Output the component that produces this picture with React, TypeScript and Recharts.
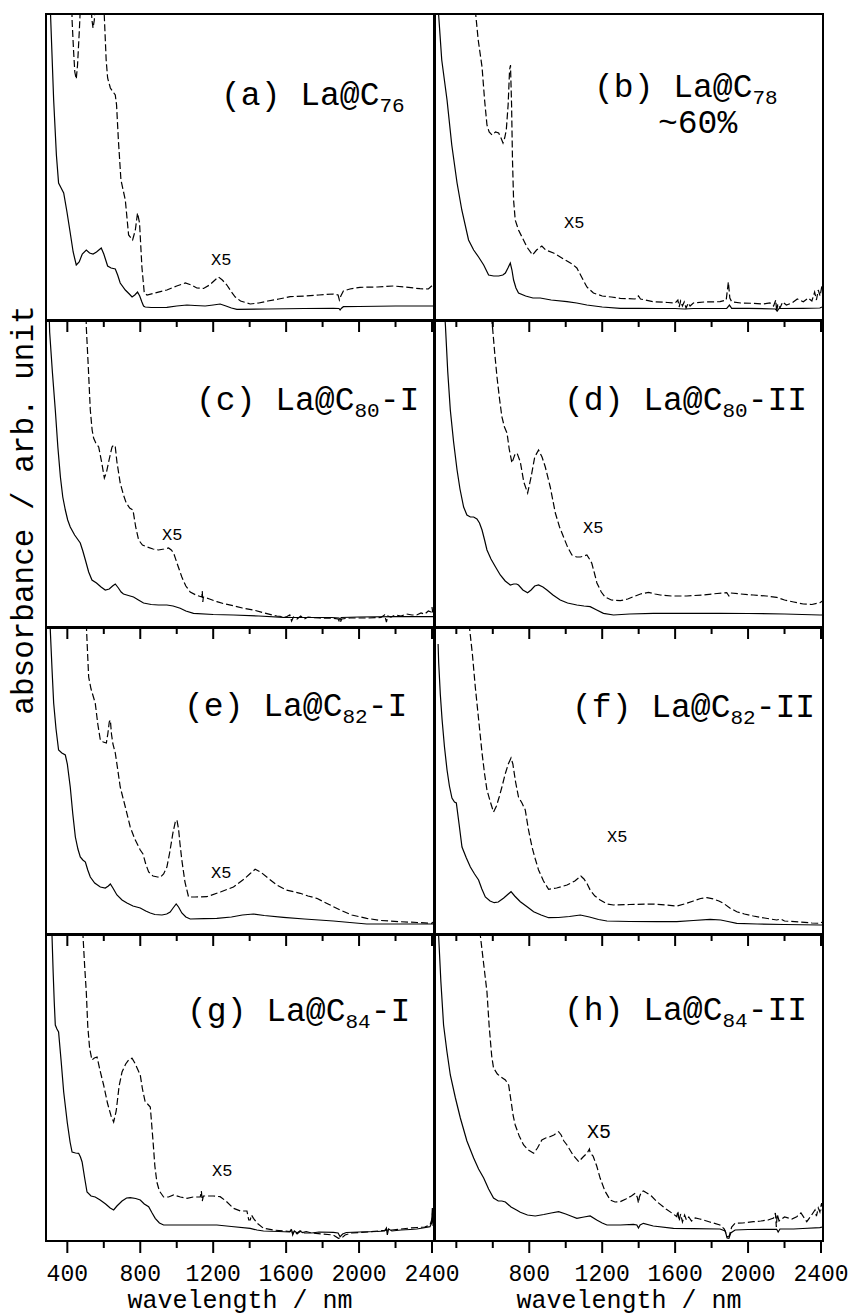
import React from 'react';
import { LineChart, Line, XAxis, YAxis, ReferenceArea } from 'recharts';

type Pt = [number, number];

// ---------- axis / tick values ----------
const X_MIN = 283;
const X_MAX = 2411;
const Y_MAX = 306;
const TICKS = [400, 600, 800, 1000, 1200, 1400, 1600, 1800, 2000, 2200, 2400];

// ---------- spectra: [wavelength nm, absorbance arb.] ----------
const A_SOLID: Pt[] = [[290, 420], [303, 330], [315, 270], [325, 220], [340, 165], [352, 137], [366, 132], [380, 127], [398, 108], [416, 87], [432, 68], [449, 55], [465, 58], [482, 66], [504, 70], [522, 67], [541, 66], [560, 68], [586, 72], [600, 66], [621, 54], [640, 52], [663, 51], [676, 45], [690, 37], [718, 30], [740, 26], [755, 23], [770, 25], [785, 28], [797, 24], [809, 18], [818, 14], [827, 13], [860, 12.5], [946, 12.7], [1000, 14], [1056, 15], [1100, 14.5], [1156, 14], [1200, 15], [1238, 16], [1270, 14], [1300, 12], [1330, 10.7], [1500, 11], [1700, 11.5], [1859, 11.7], [1890, 11.5], [1896, 10], [1902, 11.5], [1914, 13.3], [2000, 13.5], [2200, 14], [2407, 14]];
const A_DASH: Pt[] = [[418, 400], [426, 300], [434, 270], [441, 248], [449, 241], [456, 255], [466, 290], [478, 340], [489, 330], [510, 360], [525, 330], [535, 300], [541, 292], [548, 300], [560, 340], [580, 360], [599, 320], [606, 290], [613, 260], [621, 242], [636, 232], [663, 225], [670, 215], [680, 180], [694, 140], [718, 120], [736, 85], [758, 80], [773, 90], [785, 107], [796, 97], [809, 53], [822, 27], [837, 25], [880, 27], [946, 30], [1000, 34], [1047, 37], [1080, 35], [1110, 32], [1147, 31.5], [1180, 35], [1210, 40], [1229, 43], [1250, 40], [1275, 35], [1300, 28], [1321, 23], [1350, 19], [1403, 16], [1450, 17], [1500, 19], [1560, 21], [1622, 23.3], [1700, 24], [1780, 25], [1859, 26], [1885, 25], [1892, 20], [1900, 24], [1914, 29], [1950, 31], [2005, 32.7], [2100, 33], [2188, 34], [2250, 33], [2334, 31.3], [2380, 31], [2404, 35]];

const B_SOLID: Pt[] = [[296, 340], [303, 305], [320, 260], [349, 220], [375, 175], [404, 137], [430, 110], [467, 80], [495, 70], [522, 63], [550, 55], [577, 45], [605, 44], [632, 44], [655, 45], [669, 47], [683, 52], [696, 57], [705, 50], [714, 40], [727, 32], [741, 27], [780, 24], [820, 22], [860, 22], [920, 20], [1007, 18.3], [1060, 17], [1116, 15], [1200, 13], [1299, 11.7], [1400, 11.7], [1500, 11.5], [1600, 11.5], [1650, 11], [1700, 11.5], [1800, 11.5], [1883, 11.7], [1898, 15], [1910, 11.7], [2000, 11.7], [2150, 11], [2160, 9], [2170, 11.5], [2300, 11.7], [2394, 12], [2405, 13]];
const B_DASH: Pt[] = [[495, 400], [504, 310], [520, 280], [541, 253], [555, 220], [568, 195], [580, 188], [596, 185], [615, 188], [632, 187], [645, 182], [656, 177], [665, 182], [674, 190], [684, 215], [692, 250], [697, 255], [703, 215], [708, 160], [714, 120], [723, 100], [741, 90], [760, 83], [787, 73], [818, 65], [840, 70], [869, 74], [890, 70], [933, 67], [970, 63], [1007, 59], [1035, 56], [1061, 52], [1090, 42], [1116, 33], [1152, 27], [1200, 24], [1250, 23], [1299, 21.7], [1380, 21], [1399, 24], [1410, 21], [1481, 18.3], [1560, 17.5], [1600, 17], [1615, 20], [1622, 13], [1630, 19], [1640, 14], [1650, 18], [1660, 12], [1672, 17], [1682, 14], [1700, 17], [1760, 18], [1846, 18.3], [1880, 20], [1892, 38], [1900, 22], [1910, 18.3], [1960, 17], [2029, 16.7], [2080, 16], [2120, 17], [2140, 14], [2152, 20], [2157, 8], [2163, 16], [2175, 12], [2190, 18], [2210, 15], [2240, 17], [2270, 21], [2303, 18.3], [2330, 22], [2350, 19], [2365, 28], [2375, 20], [2385, 30], [2395, 24], [2405, 34]];

const C_SOLID: Pt[] = [[298, 330], [303, 295], [318, 255], [334, 217], [348, 180], [362, 150], [375, 130], [389, 117], [402, 107], [416, 100], [440, 92], [471, 84], [485, 76], [499, 67], [517, 55], [535, 47], [560, 44], [585, 40], [608, 37], [630, 38], [648, 41], [663, 43], [680, 39], [695, 35], [708, 33], [735, 31.5], [763, 30], [790, 27], [818, 24], [860, 22.5], [900, 22], [946, 22], [980, 21], [1019, 18.7], [1050, 16], [1092, 13.7], [1200, 12.5], [1311, 12], [1450, 11], [1585, 9.7], [1700, 9.5], [1850, 9.5], [1890, 9], [1896, 7], [1902, 9.5], [2000, 10], [2200, 10.3], [2407, 10.3]];
const C_DASH: Pt[] = [[495, 400], [504, 300], [515, 260], [526, 217], [536, 197], [544, 189], [556, 184], [572, 180], [588, 165], [603, 149], [615, 155], [630, 168], [645, 180], [655, 182], [663, 180], [672, 165], [690, 144], [708, 132], [723, 124], [742, 119], [760, 117], [775, 100], [791, 87], [812, 82], [837, 80], [870, 78], [900, 77], [930, 78], [955, 79], [970, 77], [983, 74], [1005, 62], [1028, 50], [1050, 41], [1074, 35], [1105, 32], [1138, 30], [1140, 36], [1143, 25], [1146, 30], [1180, 28], [1220, 25.3], [1265, 23], [1311, 21.3], [1360, 19], [1421, 17], [1480, 14], [1549, 11], [1600, 10], [1620, 12], [1630, 6], [1640, 10], [1660, 8], [1680, 11], [1700, 8], [1720, 10], [1780, 9], [1859, 8.7], [1885, 8], [1896, 4], [1905, 8], [1950, 9], [2050, 9], [2120, 9.5], [2140, 12], [2150, 5], [2158, 11], [2175, 10], [2200, 12], [2230, 11], [2260, 13], [2290, 12], [2316, 12], [2340, 14], [2360, 13], [2380, 16], [2395, 15], [2400, 20], [2405, 13]];

const D_SOLID: Pt[] = [[330, 330], [340, 302], [353, 255], [367, 217], [385, 185], [404, 157], [420, 138], [440, 120], [458, 112], [477, 110], [495, 110], [513, 108], [527, 104], [541, 97], [555, 87], [568, 77], [590, 68], [615, 60], [641, 52], [668, 46], [696, 42], [715, 43], [730, 43], [741, 42], [765, 37], [791, 34.3], [810, 37], [830, 41], [851, 42], [875, 40], [897, 37], [930, 32], [970, 27], [1010, 24], [1061, 22], [1100, 21], [1134, 20.3], [1170, 17], [1207, 13.7], [1262, 12], [1350, 13], [1481, 13.7], [1650, 13.7], [1846, 13.7], [2000, 13.5], [2200, 13], [2394, 12], [2408, 12]];
const D_DASH: Pt[] = [[585, 400], [596, 305], [610, 275], [623, 250], [637, 228], [650, 210], [664, 200], [678, 194], [690, 178], [705, 164], [720, 172], [733, 174], [751, 165], [770, 145], [791, 134], [810, 150], [830, 170], [851, 177], [870, 170], [888, 160], [915, 140], [943, 114], [966, 100], [988, 90], [1010, 80], [1034, 72], [1060, 70], [1080, 70], [1100, 71], [1116, 72], [1130, 68], [1143, 63.7], [1160, 52], [1171, 44], [1195, 35], [1216, 30], [1250, 27], [1299, 26.3], [1340, 28], [1371, 30.3], [1410, 33], [1454, 34.7], [1490, 33], [1518, 32], [1580, 31], [1664, 31], [1750, 32], [1830, 33.5], [1883, 34.3], [1895, 31], [1905, 34], [1960, 33], [2029, 32], [2100, 31], [2157, 29.7], [2200, 27], [2250, 25], [2303, 23], [2350, 22.5], [2394, 24.3], [2408, 26]];

const E_SOLID: Pt[] = [[300, 340], [307, 302], [316, 265], [325, 231], [338, 205], [352, 184], [370, 181], [389, 179], [400, 170], [416, 147], [430, 120], [444, 97], [458, 85], [471, 77], [485, 74], [499, 72], [512, 64], [526, 57], [550, 51], [581, 47], [608, 46], [625, 48], [636, 50], [650, 46], [672, 39], [700, 34], [727, 31], [760, 28], [800, 26], [830, 23], [855, 21], [880, 19.5], [919, 19], [945, 20], [964, 22], [980, 26], [997, 30], [1010, 27], [1028, 21], [1050, 17], [1074, 15], [1150, 15.3], [1220, 15.7], [1300, 17], [1360, 19], [1421, 20], [1480, 18.5], [1585, 16.7], [1700, 15], [1859, 13], [1950, 11.5], [2042, 10], [2200, 10], [2407, 10]];
const E_DASH: Pt[] = [[495, 400], [504, 310], [510, 285], [517, 257], [530, 245], [553, 231], [567, 210], [581, 194], [597, 192], [614, 191], [622, 200], [630, 212], [636, 214], [642, 200], [650, 190], [663, 181], [676, 165], [690, 147], [718, 127], [745, 107], [770, 95], [800, 84], [815, 80], [830, 70], [846, 62], [870, 58], [895, 57], [910, 56.7], [928, 60], [946, 67], [962, 82], [979, 101], [992, 112], [1001, 114], [1010, 105], [1018, 90], [1028, 74], [1045, 52], [1065, 37], [1100, 37], [1165, 37.3], [1240, 42], [1311, 47], [1370, 55], [1400, 60], [1430, 64.7], [1460, 62], [1500, 56], [1549, 49], [1600, 44], [1677, 40.7], [1720, 38], [1768, 35.7], [1830, 30], [1896, 24], [1960, 19], [2042, 15.7], [2120, 13.5], [2225, 12.3], [2320, 11.5], [2398, 10.7], [2408, 12]];

const F_SOLID: Pt[] = [[300, 290], [303, 272], [312, 240], [322, 214], [335, 187], [349, 164], [362, 148], [376, 136], [390, 132], [400, 131], [415, 110], [431, 87], [455, 76], [477, 67], [500, 60], [522, 54], [540, 45], [559, 37], [585, 33], [608, 31.3], [630, 32], [660, 36], [685, 40], [700, 42.3], [720, 38], [751, 32.3], [790, 27], [824, 22.3], [865, 19], [906, 16.3], [960, 16.5], [1020, 17.5], [1080, 19], [1130, 17], [1180, 14.5], [1226, 13], [1350, 12.5], [1500, 12.3], [1609, 12.3], [1700, 13.5], [1792, 14.7], [1850, 14], [1890, 12.5], [1938, 10.7], [2050, 10], [2200, 9.5], [2394, 9], [2408, 9]];
const F_DASH: Pt[] = [[465, 400], [473, 305], [488, 280], [504, 247], [522, 215], [541, 181], [555, 160], [568, 144], [585, 133], [604, 122], [620, 128], [635, 137], [650, 147], [668, 160], [685, 170], [700, 176], [710, 170], [725, 152], [741, 137], [760, 131], [778, 124], [795, 105], [815, 87], [833, 75], [851, 64], [878, 53], [906, 44.7], [950, 46], [1007, 49], [1050, 53], [1083, 58], [1100, 55], [1118, 50], [1134, 44], [1160, 38], [1189, 34], [1226, 30], [1262, 29], [1350, 29.5], [1481, 30], [1550, 29], [1609, 28], [1650, 30], [1700, 33], [1740, 35.5], [1774, 36.3], [1810, 35], [1840, 33], [1865, 30.7], [1900, 26], [1938, 22.3], [1980, 20], [2029, 18], [2090, 16], [2157, 14], [2180, 15], [2200, 13], [2280, 12], [2350, 11], [2394, 10.7], [2408, 12]];

const G_SOLID: Pt[] = [[310, 330], [316, 305], [322, 270], [328, 240], [334, 216], [343, 212], [352, 209], [366, 180], [380, 149], [400, 118], [415, 99], [426, 89], [445, 88], [462, 87.7], [472, 84], [481, 79], [495, 63], [508, 49], [530, 45], [553, 44], [580, 41], [610, 37], [635, 33], [654, 31], [672, 35], [700, 40], [725, 43], [745, 43.3], [775, 42.5], [800, 41], [822, 37], [846, 34.3], [865, 28], [882, 22.7], [905, 18], [928, 16], [1000, 16], [1100, 16], [1220, 16], [1300, 14.5], [1403, 12.7], [1440, 11], [1476, 10], [1560, 9.5], [1620, 9], [1630, 11], [1636, 7], [1645, 10], [1660, 8], [1675, 10], [1690, 8.5], [1710, 9.5], [1740, 8], [1780, 9], [1859, 8.7], [1885, 8], [1896, 4.3], [1910, 7], [1930, 8.5], [2000, 9], [2100, 9.5], [2140, 10], [2150, 13], [2155, 6], [2162, 12], [2180, 10], [2230, 11], [2280, 11.5], [2316, 12], [2350, 13], [2389, 14.3], [2398, 18], [2402, 33], [2406, 15]];
const G_DASH: Pt[] = [[478, 400], [486, 305], [495, 275], [504, 249], [512, 215], [522, 193], [535, 181], [548, 183], [563, 184], [580, 170], [599, 156], [620, 138], [640, 125], [654, 119], [668, 130], [684, 155], [700, 169], [720, 177], [740, 182], [755, 182.7], [770, 178], [790, 170], [800, 166], [812, 152], [827, 139], [840, 137], [855, 134], [870, 100], [880, 75], [891, 59], [905, 50], [928, 44], [955, 44], [983, 46], [1020, 44], [1056, 42.7], [1090, 44], [1129, 44], [1135, 50], [1140, 40], [1146, 45], [1200, 45], [1238, 44.3], [1270, 40], [1311, 32.7], [1350, 30], [1385, 30], [1395, 21], [1403, 21], [1410, 26], [1421, 22.7], [1440, 18], [1476, 12.7], [1530, 11], [1585, 10], [1620, 9.5], [1630, 12], [1636, 6], [1645, 10], [1660, 7], [1680, 10], [1700, 8], [1740, 8], [1800, 7], [1859, 6], [1887, 2.7], [1905, 3], [1923, 6], [1960, 8], [2050, 9], [2133, 10.5], [2180, 11], [2230, 12], [2280, 13], [2320, 13.5], [2360, 14], [2389, 16], [2400, 22], [2404, 30]];

const H_SOLID: Pt[] = [[298, 340], [303, 305], [315, 260], [330, 216], [348, 190], [367, 166], [395, 143], [422, 123], [458, 100], [495, 83], [522, 72], [550, 63], [577, 52], [604, 43], [630, 40], [650, 40], [669, 39], [700, 34], [730, 31], [751, 28.7], [790, 26], [833, 25], [880, 26.5], [920, 28], [961, 29.3], [1000, 27], [1035, 24.5], [1061, 22.7], [1100, 24], [1134, 25], [1170, 21], [1200, 18], [1226, 16], [1300, 16], [1371, 16.7], [1390, 16], [1399, 13], [1408, 16], [1426, 17.7], [1480, 15], [1591, 12.7], [1700, 12.3], [1846, 12], [1875, 10], [1885, 3], [1895, 2.7], [1905, 8], [1929, 11], [2000, 11.5], [2157, 11.7], [2165, 9], [2175, 12], [2250, 12], [2300, 12.5], [2394, 13.3], [2408, 14]];
const H_DASH: Pt[] = [[525, 400], [532, 305], [548, 280], [568, 249], [580, 215], [594, 185], [604, 173], [625, 167], [645, 164], [669, 161], [687, 156], [700, 140], [712, 125], [723, 116], [745, 105], [769, 96], [795, 91], [824, 87.7], [845, 93], [869, 101], [890, 103], [910, 104], [935, 106], [961, 109.3], [975, 106], [990, 100], [1007, 96], [1040, 86], [1071, 79.3], [1095, 84], [1118, 88], [1130, 92], [1134, 88], [1150, 85], [1170, 75], [1189, 62.7], [1215, 50], [1244, 41], [1270, 39], [1299, 39.3], [1330, 42], [1360, 45], [1381, 47.7], [1392, 44], [1399, 38], [1404, 44], [1415, 49], [1426, 50], [1445, 48], [1470, 45], [1500, 39.3], [1550, 32], [1590, 27], [1609, 24.3], [1615, 30], [1622, 20], [1630, 27], [1640, 19], [1652, 26], [1662, 21], [1675, 24], [1690, 20], [1710, 23], [1735, 22], [1755, 21], [1790, 19], [1846, 16], [1870, 12], [1885, 4.3], [1897, 5], [1910, 14], [1929, 17.7], [1970, 18], [2029, 19.3], [2070, 20], [2110, 21], [2140, 23], [2150, 28], [2155, 14], [2160, 27], [2170, 20], [2200, 24], [2240, 22], [2267, 24.3], [2290, 28], [2322, 19.3], [2345, 25], [2367, 31], [2375, 25], [2385, 33], [2394, 29], [2403, 38], [2408, 30]];

// ---------- labels ----------
const LETTERS = ['a', 'b', 'c', 'd', 'e', 'f', 'g', 'h'];
const CAGES = ['76', '78', '80', '80', '82', '82', '84', '84'];
const ISOMERS = ['', '', '-I', '-II', '-I', '-II', '-I', '-II'];
const SCALE_TEXT = 'X5';
const X_TITLE = 'wavelength / nm';
const Y_TITLE = 'absorbance / arb. unit';

// ---------- layout (page coordinates) ----------
const FONT = '"Liberation Mono", "Courier New", Courier, monospace';
const PLOT_W = 388;
const PLOT_H = 306;
const COL_X = [46, 435];
const ROW_Y = [14, 321, 628, 935];
const LABEL_POS = [[221, 105], [594, 97], [196, 410], [564, 410], [184, 716], [572, 717], [187, 1021], [564, 1020]];
const X5_POS = [[211, 265], [564, 228], [162, 540], [583, 533], [211, 878], [607, 842], [212, 1176], [587, 1138]];

const SPECTRA: Pt[][][] = [
  [A_SOLID, A_DASH], [B_SOLID, B_DASH], [C_SOLID, C_DASH], [D_SOLID, D_DASH],
  [E_SOLID, E_DASH], [F_SOLID, F_DASH], [G_SOLID, G_DASH], [H_SOLID, H_DASH],
];

const toData = (pts: Pt[]) => pts.map(([x, y]) => ({ x, y }));

function renderTick(props: any, showLabels: boolean, rightCol: boolean) {
  const { x, y, payload } = props;
  const v = payload.value as number;
  const major = v % 400 === 0 && !(rightCol && v === 400);
  const len = major ? 12 : 7;
  return (
    <g key={`t-${v}`}>
      <line x1={x} y1={y} x2={x} y2={y + len} stroke="#000" strokeWidth={2} />
      {showLabels && major ? (
        <text x={x} y={y + 40} textAnchor="middle" fontFamily={FONT} fontSize={23} fill="#000">
          {v}
        </text>
      ) : null}
    </g>
  );
}

function Panel({ idx }: { idx: number }) {
  const col = idx % 2;
  const row = Math.floor(idx / 2);
  const bottomRow = row === 3;
  const rightCol = col === 1;
  const mLeft = 2;
  const mTop = 2;
  const mRight = rightCol ? 30 : 40;
  const axisH = bottomRow ? 76 : 20;
  const ox = COL_X[col] - mLeft;
  const oy = ROW_Y[row] - mTop;
  const width = mLeft + PLOT_W + mRight;
  const height = mTop + PLOT_H + axisH;
  const [solid, dashed] = SPECTRA[idx];
  const [lx, ly] = LABEL_POS[idx];
  const [sx, sy] = X5_POS[idx];
  const isH = idx === 7;

  return (
    <div style={{ position: 'absolute', left: ox, top: oy, width, height }}>
      <LineChart width={width} height={height} margin={{ top: mTop, left: mLeft, right: mRight, bottom: 0 }}>
        <XAxis
          type="number"
          dataKey="x"
          domain={[X_MIN, X_MAX]}
          allowDataOverflow
          ticks={TICKS}
          interval={0}
          tickLine={false}
          axisLine={false}
          tickSize={0}
          tickMargin={0}
          height={axisH}
          tick={(p: any) => renderTick(p, bottomRow, rightCol)}
        />
        <YAxis type="number" hide domain={[0, Y_MAX]} allowDataOverflow />
        <Line
          data={toData(solid)}
          dataKey="y"
          type="linear"
          stroke="#000"
          strokeWidth={1.2}
          dot={false}
          activeDot={false}
          isAnimationActive={false}
        />
        <Line
          data={toData(dashed)}
          dataKey="y"
          type="linear"
          stroke="#000"
          strokeWidth={1.2}
          strokeDasharray="7 3"
          dot={false}
          activeDot={false}
          isAnimationActive={false}
        />
        <ReferenceArea
          x1={X_MIN}
          x2={X_MAX}
          y1={0}
          y2={Y_MAX}
          fill="none"
          stroke="#000"
          strokeWidth={2}
          ifOverflow="visible"
        />
        <text x={lx - ox} y={ly - oy} fontFamily={FONT} fontSize={33} fill="#000">
          ({LETTERS[idx]}) La@C
          <tspan fontSize={21} dy={7}>{CAGES[idx]}</tspan>
          {ISOMERS[idx] ? <tspan dy={-7}>{ISOMERS[idx]}</tspan> : null}
        </text>
        {idx === 1 ? (
          <text x={658 - ox} y={133 - oy} fontFamily={FONT} fontSize={33} fill="#000">~60%</text>
        ) : null}
        <text x={sx - ox} y={sy - oy} fontFamily={FONT} fontSize={isH ? 20 : 17} fill="#000">
          {SCALE_TEXT}
        </text>
        {bottomRow ? (
          <text
            x={mLeft + PLOT_W / 2}
            y={1308 - oy}
            textAnchor="middle"
            fontFamily={FONT}
            fontSize={25}
            fill="#000"
          >
            {X_TITLE}
          </text>
        ) : null}
      </LineChart>
    </div>
  );
}

export default function App() {
  return (
    <div style={{ position: 'absolute', left: 0, top: 0, width: 853, height: 1315, background: '#fff' }}>
      {LETTERS.map((_, i) => (
        <Panel key={i} idx={i} />
      ))}
      <svg width={60} height={1315} style={{ position: 'absolute', left: 0, top: 0 }}>
        <text
          transform="translate(33,510) rotate(-90)"
          textAnchor="middle"
          fontFamily={FONT}
          fontSize={31}
          fill="#000"
        >
          {Y_TITLE}
        </text>
      </svg>
    </div>
  );
}
